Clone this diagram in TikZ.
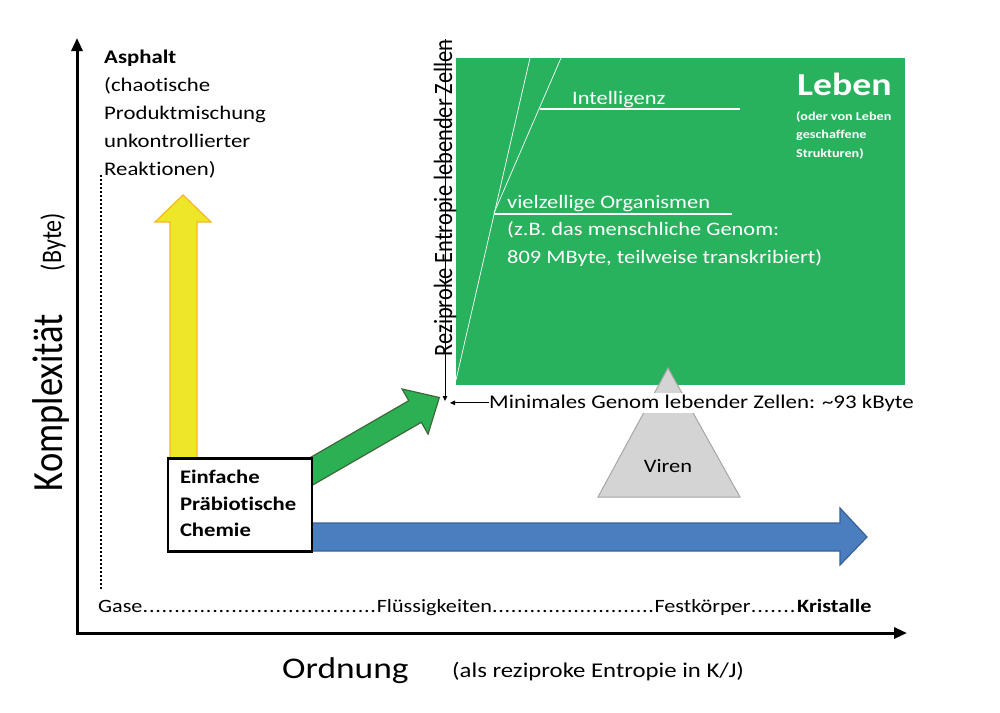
\documentclass[tikz,border=0pt]{standalone}
\usepackage{fontspec}
\usepackage{graphicx}
\setmainfont{Carlito}[Ligatures={NoCommon}]
\usetikzlibrary{arrows.meta}
\definecolor{lifegreen}{RGB}{40,178,94}
\definecolor{arrowgreen}{RGB}{44,176,84}
\definecolor{arrowgreenedge}{RGB}{62,104,56}
\definecolor{yellowfill}{RGB}{238,230,40}
\definecolor{yellowedge}{RGB}{246,182,40}
\definecolor{bluefill}{RGB}{74,126,190}
\definecolor{blueedge}{RGB}{58,98,150}
\definecolor{virusfill}{RGB}{212,212,212}
\definecolor{virusedge}{RGB}{166,166,166}
\newcommand\fsz[2]{\fontsize{#1}{#2}\selectfont}
\newcommand\sx[1]{\scalebox{1.18}[1]{#1}}
\newcommand\sy[1]{\scalebox{1}[1.18]{#1}}
\newcommand\dotsto[2]{\hbox to #1{#2\xleaders\hbox{.\kern0.5pt}\hfill}}
\begin{document}
\begin{tikzpicture}[x=1pt,y=-1pt,
  axisline/.style={line width=3pt, {Triangle[length=13pt,width=11pt]}-{Triangle[length=13pt,width=11pt]}, line join=miter},
  fatarrow/.style={line width=1.2pt, line join=miter},
  lbl/.style={inner sep=0pt, anchor=base west},
  whitelbl/.style={lbl, text=white},
  vlbl/.style={inner sep=0pt, rotate=90, anchor=base},
  thinarrow/.style={line width=0.8pt, -{Triangle[length=5pt,width=4.5pt]}},
  lifeline/.style={white, line width=0.7pt},
  markline/.style={white, line width=2pt},
]
\useasboundingbox[fill=white] (0,0) rectangle (1000,712);

% axes
\coordinate (ytop) at (77,38);
\coordinate (origin) at (77,633);
\coordinate (xend) at (907,633);
\draw[axisline] (ytop) -- (origin) -- (xend);

% dotted guide
\coordinate (dtop) at (101,175);
\coordinate (dbot) at (101,590);
\draw[line width=1.6pt, dash pattern=on 1.6pt off 2.4pt] (dtop) -- (dbot);

% axis labels
\node[vlbl, font=\fsz{36.5}{40}] (komp) at (62,402.5) {\sy{Komplexität}};
\node[vlbl, font=\fsz{24}{28}] (byte) at (61,242) {\sy{(Byte)}};
\node[lbl, font=\fsz{30}{34}] (ord) at (282,678) {\sx{Ordnung}};
\node[lbl, font=\fsz{21}{25}] (ordunit) at (452,677) {\sx{(als reziproke Entropie in K/J)}};

% states of matter
\node[lbl, font=\fsz{18.8}{22}] (states) at (98,612) {\sx{\dotsto{236.4pt}{Gase}\dotsto{235.6pt}{Flüssigkeiten}\dotsto{120.3pt}{Festkörper}\textbf{Kristalle}}};

% Asphalt text
\node[lbl, font=\fsz{19.3}{28}] (asph) at (104,63) {\sx{\begin{tabular}[t]{@{}l@{}}\textbf{Asphalt}\\(chaotische\\Produktmischung\\unkontrollierter\\Reaktionen)\end{tabular}}};

% yellow arrow
\draw[fatarrow, fill=yellowfill, draw=yellowedge] (170,470) -- (170,222) -- (155,222) -- (183,195) -- (211,222) -- (197,222) -- (197,470) -- cycle;

% blue arrow
\draw[fatarrow, fill=bluefill, draw=blueedge] (300,523) -- (840,523) -- (840,508) -- (867,537) -- (840,565) -- (840,551) -- (300,551) -- cycle;

% green arrow
\begin{scope}[shift={(299,478.5)}, rotate=30]
\draw[fatarrow, fill=arrowgreen, draw=arrowgreenedge] (0,-12.5) -- (134,-12.5) -- (134,-26) -- (162,0) -- (134,26) -- (134,12.5) -- (0,12.5) -- cycle;
\end{scope}

% box
\node[draw=black, fill=white, line width=2.5pt, minimum width=144pt, minimum height=93pt, inner xsep=12pt, text width=120pt, align=left, font=\fsz{19.2}{26.5}\bfseries] (chem) at (240,505) {\sx{\begin{tabular}{@{}l@{}}Einfache\\Präbiotische\\Chemie\end{tabular}}};

% life rectangle
\node[fill=lifegreen, minimum width=449pt, minimum height=327pt, anchor=north west, inner sep=0pt] (life) at (456,58) {};
\coordinate (l1top) at (530,58);
\coordinate (l1bot) at (456,380);
\coordinate (l2top) at (561,58);
\coordinate (l2bot) at (494,213);
\draw[lifeline] (l1top) -- (l1bot);
\draw[lifeline] (l2top) -- (l2bot);
\coordinate (intA) at (540,109);
\coordinate (intB) at (740,109);
\draw[markline] (intA) -- (intB);
\coordinate (vzA) at (494,214);
\coordinate (vzB) at (732,214);
\draw[markline] (vzA) -- (vzB);
\node[whitelbl, font=\fsz{19}{28}] (intel) at (572,104) {\sx{Intelligenz}};
\node[whitelbl, font=\fsz{19}{28}] (vz) at (507,208) {\sx{vielzellige Organismen}};
\node[whitelbl, font=\fsz{19}{28}] (genom) at (507,235) {\sx{\begin{tabular}[t]{@{}l@{}}(z.B. das menschliche Genom:\\809 MByte, teilweise transkribiert)\end{tabular}}};
\node[whitelbl, font=\fsz{32}{36}\bfseries] (leben) at (797,95) {\sx{Leben}};
\node[whitelbl, font=\fsz{12}{18.5}\bfseries] (lebsub) at (796,120) {\sx{\begin{tabular}[t]{@{}l@{}}(oder von Leben\\geschaffene\\Strukturen)\end{tabular}}};

% vertical label
\node[vlbl, font=\fsz{22.4}{26}] (rez) at (452,198) {\sy{Reziproke Entropie lebender Zellen}};

% viruses
\coordinate (vtop) at (668,368);
\coordinate (vright) at (740,497);
\coordinate (vleft) at (598,497);
\draw[fill=virusfill, draw=virusedge, line width=1pt, line join=miter] (vtop) -- (vright) -- (vleft) -- cycle;
\node[inner sep=0pt, anchor=base, font=\fsz{19}{22}] (viren) at (668,472) {\sx{Viren}};

% minimal genome
\node[lbl, fill=white, inner ysep=2pt, font=\fsz{19.4}{22}] (minimal) at (489,408) {\sx{Minimales Genom lebender Zellen: \textasciitilde93 kByte}};
\coordinate (hit) at (450,401);
\coordinate (vx) at (445,0);
\draw[thinarrow] (minimal.west) -- (minimal.west -| hit);
\draw[thinarrow] (rez.east -| vx) -- (vx |- hit);
\end{tikzpicture}
\end{document}
